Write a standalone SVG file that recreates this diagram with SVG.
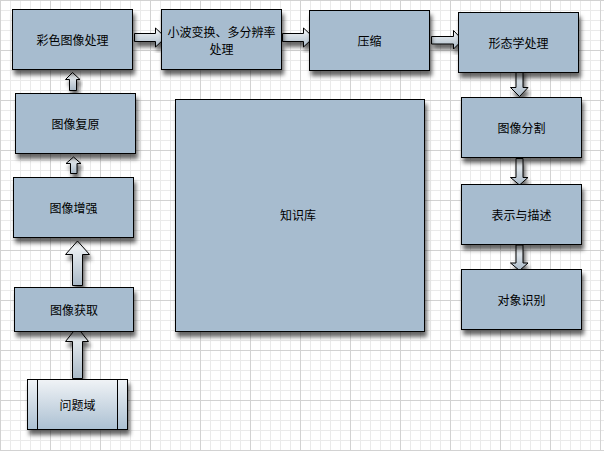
<svg xmlns="http://www.w3.org/2000/svg" width="604" height="451" viewBox="0 0 604 451">
<defs>
<pattern id="minor" width="10" height="10" patternUnits="userSpaceOnUse">
<path d="M0.5 0V10M0 0.5H10" stroke="#eaeaea" stroke-width="1" fill="none"/>
</pattern>
<pattern id="major" width="50" height="50" patternUnits="userSpaceOnUse">
<rect width="50" height="50" fill="url(#minor)"/>
<path d="M0.5 0V50M0 0.5H50" stroke="#d2d2d2" stroke-width="1" fill="none"/>
</pattern>
<filter id="sh" x="-10%" y="-10%" width="130%" height="140%">
<feDropShadow dx="2" dy="5" stdDeviation="2" flood-color="#000" flood-opacity="0.6"/>
</filter>
<linearGradient id="ag" x1="0" y1="0" x2="0" y2="1">
<stop offset="0" stop-color="#f7f9fa"/>
<stop offset="1" stop-color="#a9b9c7"/>
</linearGradient>
<linearGradient id="pg" x1="0" y1="0" x2="0" y2="1">
<stop offset="0" stop-color="#f0f3f6"/>
<stop offset="1" stop-color="#abc0d2"/>
</linearGradient>
</defs>
<style>
.box{fill:#a7bccf;stroke:#000;stroke-width:1;filter:url(#sh)}
.arr{fill:url(#ag);stroke:#000;stroke-width:1;filter:url(#sh)}
text{font-family:"Noto Sans CJK SC","Noto Sans",sans-serif;font-size:12px;fill:#000;text-anchor:middle;dominant-baseline:central}
</style>
<rect width="604" height="451" fill="#fff"/>
<rect width="604" height="451" fill="url(#major)"/>

<g id="connectors">
<path class="arr" d="M134.5 33.5H155.5V28L165.5 37.5L155.5 47V41.5H134.5Z"/>
<path class="arr" d="M282.5 33.5H303.5V28L313.5 37.5L303.5 47V41.5H282.5Z"/>
<path class="arr" d="M431.5 36.5H453.5V30.5L462.5 40L453.5 49V44H431.5Z"/>
<path class="arr" d="M516 68.5V87.5H510.5L519.5 96.5L528 87.5H523V68.5Z"/>
<path class="arr" d="M516 158.5V177.5H510.5L519.5 185L528 177.5H523V158.5Z"/>
<path class="arr" d="M516 245V263H510.5L519.5 270.5L528 263H523V245Z"/>
<path class="arr" d="M69.5 90.5V79.5H65.5L72.5 72.5L80 79.5H76.5V90.5Z"/>
<path class="arr" d="M70.5 173.5V163.5H66L73.5 157L81 163.5H77V173.5Z"/>
<path class="arr" d="M72.5 285.5V254.5H65.5L77.5 241L89.5 254.5H82.5V285.5Z"/>
<path class="arr" d="M72.5 378.5V341.5H65.5L77 327L88.5 341.5H82.5V378.5Z"/>
</g>

<g id="n-color"><rect class="box" x="12.5" y="9.5" width="120" height="60"/><text x="72.5" y="39.5">彩色图像处理</text></g>
<g id="n-wavelet"><rect class="box" x="161.5" y="9.5" width="120" height="60"/><text x="221.5" y="31">小波变换、多分辨率</text><text x="221.5" y="48">处理</text></g>
<g id="n-compress"><rect class="box" x="309.5" y="10.5" width="120" height="60"/><text x="369.5" y="40.5">压缩</text></g>
<g id="n-morph"><rect class="box" x="458.5" y="12.5" width="120" height="60"/><text x="518.5" y="42.5">形态学处理</text></g>
<g id="n-seg"><rect class="box" x="461.5" y="97.5" width="120" height="60"/><text x="521.5" y="127.5">图像分割</text></g>
<g id="n-desc"><rect class="box" x="461.5" y="184.5" width="120" height="60"/><text x="521.5" y="214.5">表示与描述</text></g>
<g id="n-recog"><rect class="box" x="461.5" y="269.5" width="120" height="60"/><text x="521.5" y="299.5">对象识别</text></g>
<g id="n-restore"><rect class="box" x="15.5" y="93.5" width="120" height="60"/><text x="75.5" y="123.5">图像复原</text></g>
<g id="n-enhance"><rect class="box" x="13.5" y="177.5" width="120" height="60"/><text x="73.5" y="207.5">图像增强</text></g>
<g id="n-acquire"><rect class="box" x="14.5" y="287.5" width="119" height="44"/><text x="74" y="309.5">图像获取</text></g>
<g id="n-kb"><rect class="box" x="175.5" y="99.5" width="249" height="232"/><text x="298" y="214">知识库</text></g>
<g id="n-domain"><rect x="27.5" y="379.5" width="100" height="50" fill="url(#pg)" stroke="#000" filter="url(#sh)"/><path d="M37.5 379.5V429.5M117.5 379.5V429.5" stroke="#000" fill="none"/><text x="77.5" y="404">问题域</text></g>
</svg>
